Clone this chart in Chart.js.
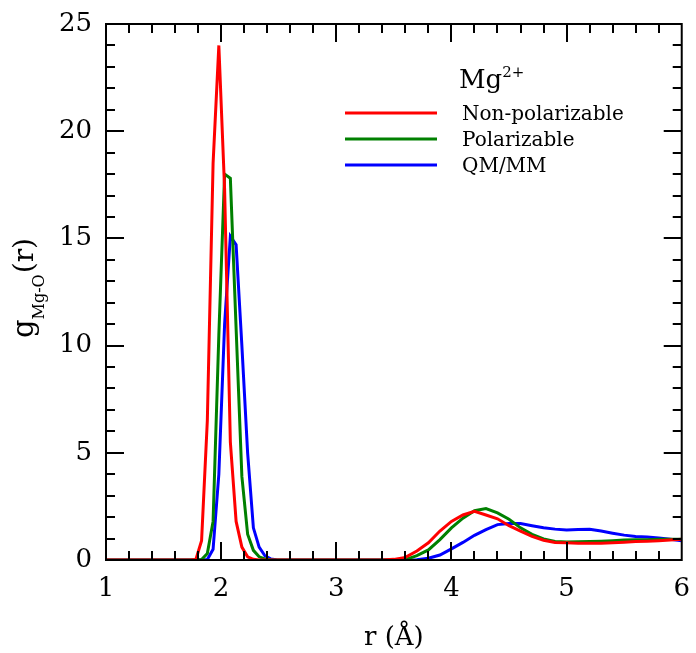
<!DOCTYPE html>
<html>
<head>
<meta charset="utf-8">
<script src="https://cdn.jsdelivr.net/npm/chart.js@4"></script>
<style>
  html, body { margin: 0; padding: 0; background: #fff; }
  #wrap { width: 696px; height: 653px; position: relative; }
</style>
</head>
<body>
<div id="wrap"><canvas id="c" width="696" height="653"></canvas></div>
<script>
// r grid (Å)
const rValues = [1.0, 1.73, 1.78, 1.83, 1.88, 1.93, 1.98, 2.03, 2.08, 2.13, 2.18, 2.23, 2.28, 2.33, 2.38, 2.43, 2.48,
  3.4, 3.5, 3.6, 3.7, 3.8, 3.9, 4.0, 4.1, 4.2, 4.3, 4.4, 4.5, 4.6, 4.7, 4.8, 4.9, 5.0, 5.1, 5.2, 5.3, 5.4, 5.5, 5.6, 5.7, 5.8, 5.9, 6.0];
// g(r) series
const nonPolarizable = [0, 0, 0.02, 0.9, 6.5, 18.5, 24.0, 17.3, 5.5, 1.8, 0.6, 0.15, 0.03, 0, 0, 0, 0,
  0, 0.03, 0.12, 0.42, 0.8, 1.35, 1.8, 2.1, 2.27, 2.1, 1.92, 1.6, 1.35, 1.1, 0.92, 0.82, 0.8, 0.78, 0.78, 0.78, 0.8, 0.83, 0.86, 0.88, 0.9, 0.93, 0.97];
const polarizable = [0, 0, 0, 0.02, 0.3, 1.8, 10.5, 18.0, 17.8, 10.8, 3.9, 1.2, 0.45, 0.15, 0.05, 0.01, 0,
  0, 0, 0.02, 0.2, 0.47, 0.95, 1.5, 1.95, 2.3, 2.4, 2.2, 1.9, 1.5, 1.2, 0.98, 0.86, 0.84, 0.85, 0.86, 0.88, 0.9, 0.93, 0.94, 0.95, 0.97, 0.97, 0.97];
const qmmm = [0, 0, 0, 0, 0.02, 0.5, 4.0, 11.0, 15.1, 14.7, 10.0, 5.0, 1.5, 0.6, 0.2, 0.05, 0.01,
  0, 0, 0, 0.01, 0.08, 0.23, 0.52, 0.82, 1.15, 1.42, 1.65, 1.7, 1.7, 1.6, 1.5, 1.44, 1.4, 1.42, 1.43, 1.35, 1.25, 1.16, 1.1, 1.07, 1.03, 0.97, 0.9];
const seriesNames = ["Non-polarizable", "Polarizable", "QM/MM"];
const seriesColors = ["#ff0000", "#008000", "#0000ff"];
const xTickValues = [1, 2, 3, 4, 5, 6];
const yTickValues = [0, 5, 10, 15, 20, 25];

const serif = "'DejaVu Serif', serif";
const toXY = arr => arr.map((v, i) => ({ x: rValues[i], y: v }));

const frameTicks = {
  id: 'frameTicks',
  afterDatasetsDraw(chart) {
    const ctx = chart.ctx, a = chart.chartArea;
    const xs = chart.scales.x, ys = chart.scales.y;
    ctx.save();
    ctx.strokeStyle = '#000';
    ctx.lineWidth = 2;
    ctx.strokeRect(a.left, a.top, a.right - a.left, a.bottom - a.top);
    ctx.lineWidth = 2;
    ctx.beginPath();
    for (let k = 1; k < 25; k++) {
      const v = 1 + k * 0.2;
      const px = Math.round(xs.getPixelForValue(v));
      const major = (k % 5 === 0);
      const len = major ? 18 : 9;
      ctx.moveTo(px, a.bottom); ctx.lineTo(px, a.bottom - len);
      ctx.moveTo(px, a.top); ctx.lineTo(px, a.top + len);
    }
    for (let v = 1; v < 25; v++) {
      const py = Math.round(ys.getPixelForValue(v));
      const major = (v % 5 === 0);
      const len = major ? 18 : 9;
      ctx.moveTo(a.left, py); ctx.lineTo(a.left + len, py);
      ctx.moveTo(a.right, py); ctx.lineTo(a.right - len, py);
    }
    ctx.stroke();

    // Legend
    ctx.fillStyle = '#000';
    ctx.textBaseline = 'alphabetic';
    ctx.font = "26px " + serif;
    ctx.fillText("Mg", 459, 88);
    const wMg = ctx.measureText("Mg").width;
    ctx.font = "15px " + serif;
    ctx.fillText("2+", 459 + wMg, 77);
    const rowsY = [113, 139, 165];
    ctx.lineWidth = 3;
    for (let i = 0; i < 3; i++) {
      ctx.strokeStyle = seriesColors[i];
      ctx.beginPath();
      ctx.moveTo(345, rowsY[i]); ctx.lineTo(437, rowsY[i]);
      ctx.stroke();
      ctx.fillStyle = '#000';
      ctx.font = "20px " + serif;
      ctx.fillText(seriesNames[i], 462, rowsY[i] + 7);
    }

    // Y axis title
    ctx.save();
    ctx.translate(33, 338);
    ctx.rotate(-Math.PI / 2);
    ctx.font = "29px " + serif;
    ctx.fillText("g", 0, 0);
    let w = ctx.measureText("g").width;
    ctx.font = "16px " + serif;
    ctx.fillText("Mg-O", w, 11);
    w += ctx.measureText("Mg-O").width + 1;
    ctx.font = "28px " + serif;
    ctx.fillText("(r)", w, 0);
    ctx.restore();

    // X axis title
    ctx.font = "26px " + serif;
    ctx.textAlign = 'center';
    ctx.fillText("r (Å)", (a.left + a.right) / 2, 645);
    ctx.restore();
  }
};

new Chart(document.getElementById('c'), {
  type: 'line',
  data: {
    datasets: [
      { label: seriesNames[0], data: toXY(nonPolarizable), borderColor: seriesColors[0], borderWidth: 3, pointRadius: 0, tension: 0, fill: false },
      { label: seriesNames[1], data: toXY(polarizable), borderColor: seriesColors[1], borderWidth: 3, pointRadius: 0, tension: 0, fill: false },
      { label: seriesNames[2], data: toXY(qmmm), borderColor: seriesColors[2], borderWidth: 3, pointRadius: 0, tension: 0, fill: false }
    ]
  },
  options: {
    responsive: false,
    animation: false,
    events: [],
    layout: { padding: { left: 0, right: 12, top: 24, bottom: 0 } },
    plugins: { legend: { display: false }, tooltip: { enabled: false } },
    scales: {
      x: {
        type: 'linear', min: 1, max: 6,
        afterFit: s => { s.height = 93; },
        afterBuildTicks: s => { s.ticks = xTickValues.map(v => ({ value: v })); },
        grid: { display: false },
        border: { display: false },
        ticks: { color: '#000', font: { family: serif, size: 26 }, padding: 6, maxRotation: 0 }
      },
      y: {
        type: 'linear', min: 0, max: 25,
        afterFit: s => { s.width = 106; },
        afterBuildTicks: s => { s.ticks = yTickValues.map(v => ({ value: v })); },
        grid: { display: false },
        border: { display: false },
        ticks: { color: '#000', font: { family: serif, size: 26 }, padding: 6 }
      }
    }
  },
  plugins: [frameTicks]
});
</script>
</body>
</html>
